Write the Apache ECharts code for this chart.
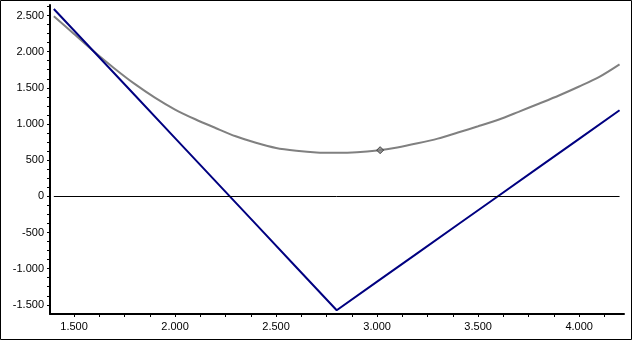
<!DOCTYPE html>
<html>
<head>
<meta charset="utf-8">
<script src="https://cdn.jsdelivr.net/npm/echarts@6/dist/echarts.min.js"></script>
<style>
html, body { margin: 0; padding: 0; background: #fff; }
#main { width: 632px; height: 340px; }
</style>
</head>
<body>
<div id="main"></div>
<script>
// underlying price (x) and profit values
var blueX = [1.40, 1.60, 1.80, 2.00, 2.20, 2.40, 2.60, 2.80, 3.00, 3.20, 3.40, 3.60, 3.80, 4.00, 4.20];
var blueY = [2590, 1995, 1400, 805, 210, -385, -980, -1575, -1180, -785, -390, 5, 400, 795, 1190];

var grayX = [1.40, 1.50, 1.60, 1.70, 1.80, 1.90, 2.00, 2.10, 2.20, 2.30, 2.40, 2.50, 2.60, 2.70, 2.80,
	2.90, 3.00, 3.10, 3.20, 3.30, 3.40, 3.50, 3.60, 3.70, 3.80, 3.90, 4.00, 4.10, 4.20];
var grayY = [2490, 2245, 1998, 1768, 1554, 1365, 1200, 1065, 945, 830, 740, 668, 630, 607, 603,
	610, 634, 676, 733, 798, 882, 968, 1059, 1168, 1280, 1394, 1518, 1652, 1825];

var markerX = [3.015];
var markerY = [638];

var xLabels = [1.5, 2.0, 2.5, 3.0, 3.5, 4.0];
var xTicks = [1.5, 1.625, 1.75, 1.875, 2.0, 2.125, 2.25, 2.375, 2.5, 2.625, 2.75, 2.875, 3.0, 3.125,
	3.25, 3.375, 3.5, 3.625, 3.75, 3.875, 4.0, 4.125];
var yLabels = [-1500, -1000, -500, 0, 500, 1000, 1500, 2000, 2500];
var yTicks = [-1500, -1375, -1250, -1125, -1000, -875, -750, -625, -500, -375, -250, -125, 0, 125, 250,
	375, 500, 625, 750, 875, 1000, 1125, 1250, 1375, 1500, 1625, 1750, 1875, 2000, 2125, 2250, 2375, 2500, 2625];

function pairs(xs, ys) {
	var out = [];
	for (var i = 0; i < xs.length; i++) out.push([xs[i], ys[i]]);
	return out;
}

// 1.500 style
function fmtX(v) {
	return v.toFixed(3);
}
// 2.500 style thousands with dot
function fmtY(v) {
	var s = Math.abs(v).toString().replace(/\B(?=(\d{3})+(?!\d))/g, '.');
	return (v < 0 ? '-' : '') + s;
}

var chart = echarts.init(document.getElementById('main'));
var option = {
	animation: false,
	graphic: [{
		type: 'rect',
		shape: { x: 0.5, y: 0.5, width: 631, height: 339 },
		style: { fill: 'none', stroke: '#000', lineWidth: 1 },
		silent: true
	}],
	grid: { left: 50, right: 8, top: 5, bottom: 26 },
	xAxis: {
		type: 'value',
		min: 1.381,
		max: 4.222,
		axisLine: { show: true, onZero: false, lineStyle: { color: '#000', width: 2 } },
		axisTick: { show: true, customValues: xTicks, length: 3, lineStyle: { color: '#000' } },
		axisLabel: {
			customValues: xLabels,
			formatter: fmtX,
			color: '#000',
			fontFamily: 'Liberation Sans',
			fontSize: 11,
			margin: 7
		},
		splitLine: { show: false }
	},
	yAxis: {
		type: 'value',
		min: -1627,
		max: 2645,
		axisLine: { show: true, onZero: false, lineStyle: { color: '#000', width: 2 } },
		axisTick: { show: true, customValues: yTicks, length: 3, lineStyle: { color: '#000' } },
		axisLabel: {
			customValues: yLabels,
			formatter: fmtY,
			color: '#000',
			fontFamily: 'Liberation Sans',
			fontSize: 11,
			margin: 6
		},
		splitLine: { show: false }
	},
	series: [{
		name: 'today',
		type: 'line',
		data: pairs(grayX, grayY),
		showSymbol: false,
		smooth: 0.3,
		lineStyle: { color: '#808080', width: 2 },
		markLine: {
			silent: true,
			symbol: 'none',
			label: { show: false },
			lineStyle: { color: '#000', width: 1, type: 'solid' },
			data: [[{ coord: [grayX[0], 0] }, { coord: [grayX[grayX.length - 1], 0] }]]
		},
		z: 2
	}, {
		name: 'expiry',
		type: 'line',
		data: pairs(blueX, blueY),
		showSymbol: false,
		lineStyle: { color: '#000080', width: 2 },
		z: 3
	}, {
		name: 'now',
		type: 'scatter',
		data: pairs(markerX, markerY),
		symbol: 'diamond',
		symbolSize: 7,
		itemStyle: { color: '#808080', borderColor: '#222', borderWidth: 1 },
		z: 4
	}]
};
chart.setOption(option);
</script>
</body>
</html>
